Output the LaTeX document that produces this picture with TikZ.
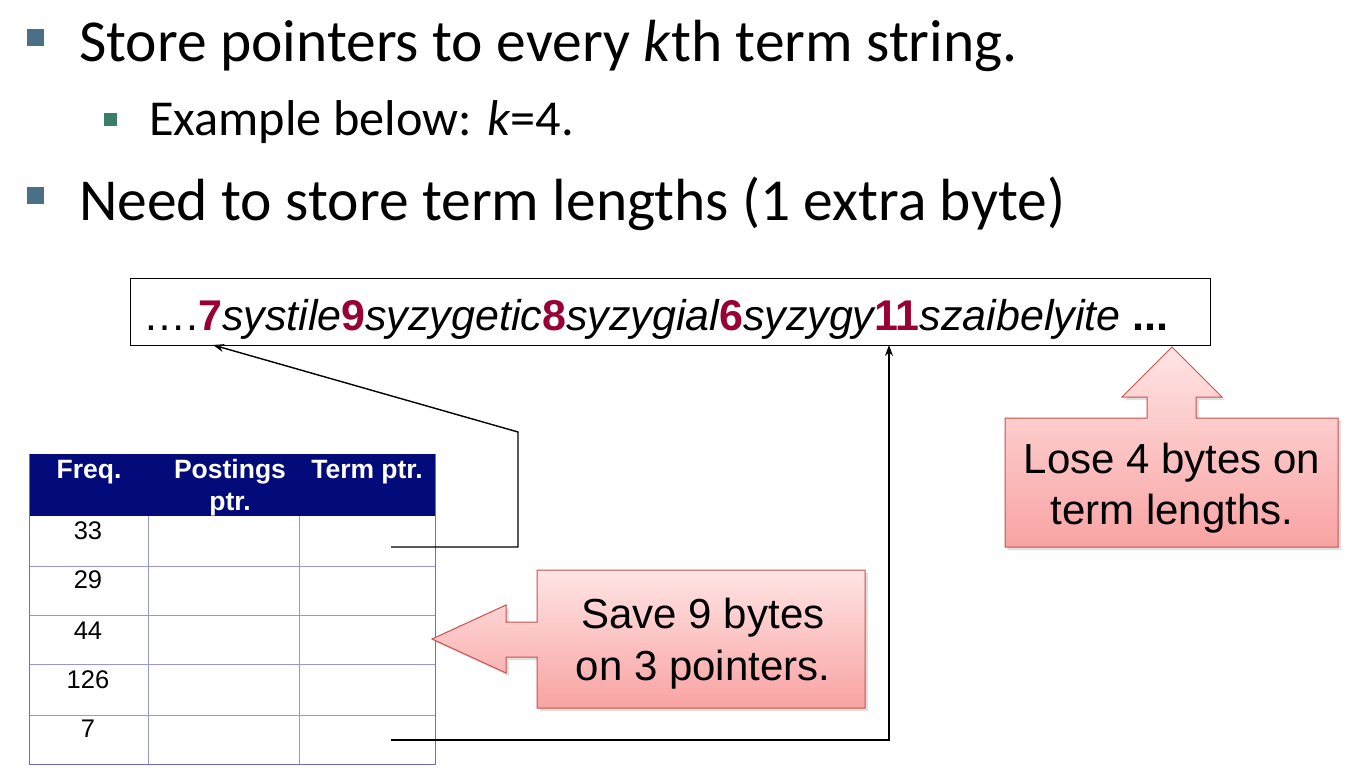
\documentclass[tikz,border=0pt]{standalone}
\usepackage{fontspec}
\setmainfont{Liberation Sans}
\newfontfamily\slidefont{Carlito}
\usetikzlibrary{arrows.meta,shadows}
\definecolor{navy}{RGB}{3,11,123}
\definecolor{gridblue}{RGB}{150,150,218}
\definecolor{frameblue}{RGB}{110,110,200}
\definecolor{lenred}{RGB}{153,0,51}
\definecolor{bulletblue}{RGB}{74,111,134}
\definecolor{bulletgreen}{RGB}{58,125,106}
\definecolor{calloutedge}{RGB}{200,80,77}
\definecolor{callouttop}{RGB}{255,228,228}
\definecolor{calloutbottom}{RGB}{249,163,163}

% term length prefix in the term string
\newcommand{\lenmark}[1]{{\upshape\bfseries\color{lenred}#1}}

\begin{document}
\begin{tikzpicture}[x=1pt,y=-1pt,
  bullettext/.style={anchor=base west,inner sep=0pt,font=\slidefont\fontsize{59.5}{70}\selectfont},
  subtext/.style={anchor=base west,inner sep=0pt,font=\slidefont\fontsize{50.3}{60}\selectfont},
  hdr/.style={anchor=base,inner sep=0pt,text=white,font=\bfseries\fontsize{26.5}{28}\selectfont},
  num/.style={anchor=base,inner sep=0pt,font=\fontsize{25.5}{30}\selectfont},
  callout/.style={draw=calloutedge,line width=1pt,top color=callouttop,bottom color=calloutbottom,
    drop shadow={opacity=0.25,shadow xshift=3pt,shadow yshift=-3pt}},
  callouttext/.style={anchor=base,inner sep=0pt,font=\fontsize{42}{50}\selectfont},
  ptr/.style={line width=1.4pt,-{Stealth[length=11pt,width=8pt]}},
  grid line/.style={draw=gridblue,line width=1pt},
]
\useasboundingbox (0,0) rectangle (1350,776);

% bullet list
\fill[bulletblue] (27,29) rectangle (44,46);
\node[bullettext] (b1) at (79,62) {Store pointers to every \textit{k}th term string.};
\fill[bulletgreen] (104,113) rectangle (117,126);
\node[subtext] (b2) at (149,135) {Example below: \textit{k}=4.};
\fill[bulletblue] (27,187) rectangle (44,204);
\node[bullettext] (b3) at (79,220) {Need to store term lengths (1 extra byte)};

% blocked term string
\node[draw,line width=1pt,minimum width=1080pt,minimum height=67pt,inner sep=0pt] (strbox) at (670,311.5) {};
\node[anchor=base west,inner sep=0pt,font=\itshape\fontsize{43}{50}\selectfont] (str) at (143,330)
  {{\upshape\ldots.}\lenmark{7}systile\lenmark{9}syzygetic\lenmark{8}syzygial\lenmark{6}syzygy\lenmark{11}szaibelyite {\upshape\bfseries ...}};

% dictionary table
\fill[navy] (29,454) rectangle (435,516);
\foreach \y in {566,615,664,715} \draw[grid line] (29,\y) -- (435,\y);
\foreach \x in {148,299} \draw[grid line] (\x,516) -- (\x,764);
\draw[draw=frameblue,line width=1pt] (29,454) -- (29,764) -- (435,764) -- (435,454);
\node[hdr] (hfreq) at (89,478) {Freq.};
\node[hdr] (hpost) at (230,478) {Postings};
\node[hdr] (hpost2) at (230,510) {ptr.};
\node[hdr] (hterm) at (367,478) {Term ptr.};
\node[num] (f1) at (88,539) {33};
\node[num] (f2) at (88,588) {29};
\node[num] (f3) at (88,639) {44};
\node[num] (f4) at (88,688) {126};
\node[num] (f5) at (88,737) {7};

% term pointers into the string
\coordinate (tp1) at (391,547);
\coordinate (tp5) at (391,740);
\coordinate (s7) at (213,345);
\coordinate (s11) at (889,345);
\coordinate (bend1) at (518,547);
\coordinate (bend2) at (518,432);
\draw[ptr] (tp1) -- (bend1) -- (bend2) -- (s7);
\draw[ptr] (tp5) -| (s11);

% callout: pointer savings
\path[callout] (537,570) -- (865,570) -- (865,708) -- (537,708) -- (537,657) -- (506,657)
  -- (506,673) -- (432,639) -- (506,605) -- (506,622) -- (537,622) -- cycle;
\node[callouttext] (save1) at (703,628) {Save 9 bytes};
\node[callouttext] (save2) at (703,680) {on 3 pointers.};

% callout: term length cost
\path[callout] (1005,418) -- (1147,418) -- (1147,397) -- (1122,397) -- (1172,347) -- (1222,397)
  -- (1196,397) -- (1196,418) -- (1338,418) -- (1338,547) -- (1005,547) -- cycle;
\node[callouttext] (lose1) at (1172,473) {Lose 4 bytes on};
\node[callouttext] (lose2) at (1172,524) {term lengths.};
\end{tikzpicture}
\end{document}
